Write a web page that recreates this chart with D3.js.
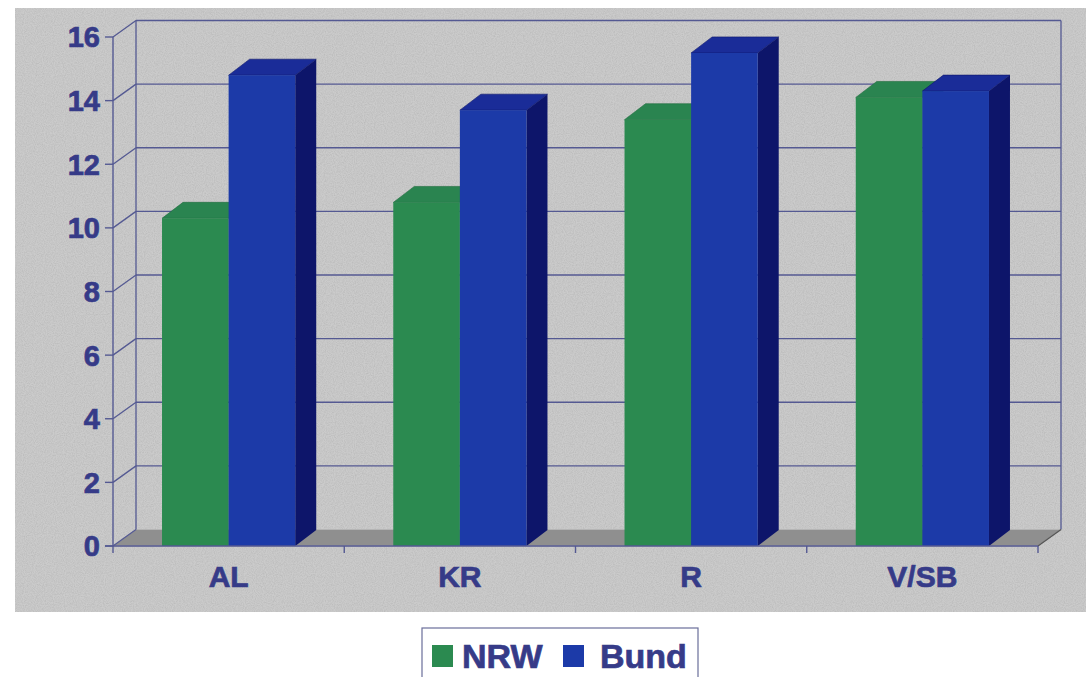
<!DOCTYPE html>
<html>
<head>
<meta charset="utf-8">
<script src="https://cdn.jsdelivr.net/npm/d3@7"></script>
<style>
  body { margin: 0; background: #fff; }
  svg { display: block; }
</style>
</head>
<body>
<script>
  var categories = ['AL', 'KR', 'R', 'V/SB'];
  var seriesNames = ['NRW', 'Bund'];
  var nrwValues = [10.3, 10.8, 13.4, 14.1];
  var bundValues = [14.8, 13.7, 15.5, 14.3];
  var yTicks = [0, 2, 4, 6, 8, 10, 12, 14, 16];

  var width = 1086, height = 677;
  var textColor = '#363b88', gridColor = '#545992';
  var fronts = { NRW: '#2b8a50', Bund: '#1c3aa8' };
  var tops = { NRW: '#2a8450', Bund: '#1a2c98' };
  var sides = { NRW: '#1d6a3a', Bund: '#0d156a' };

  // depth offset of the 3d box
  var DX = 23, DY = -16.5;
  var BDX = 21, BDY = -16;

  var svg = d3.select('body').append('svg').attr('width', width).attr('height', height);

  var defs = svg.append('defs');
  var f = defs.append('filter').attr('id', 'grain').attr('x', 0).attr('y', 0).attr('width', 1).attr('height', 1);
  f.append('feTurbulence').attr('type', 'fractalNoise').attr('baseFrequency', 0.9).attr('numOctaves', 2).attr('seed', 3).attr('result', 'n');
  f.append('feColorMatrix').attr('in', 'n').attr('type', 'matrix')
    .attr('values', '0 0 0 0 0.45  0 0 0 0 0.45  0 0 0 0 0.45  1.2 0 0 0 -0.4').attr('result', 'g');
  f.append('feComposite').attr('in', 'g').attr('in2', 'SourceGraphic').attr('operator', 'in').attr('result', 'gc');
  var fm = f.append('feMerge');
  fm.append('feMergeNode').attr('in', 'SourceGraphic');
  fm.append('feMergeNode').attr('in', 'gc');

  // gray panel
  svg.append('rect').attr('x', 15).attr('y', 8).attr('width', width - 15).attr('height', 604)
    .attr('fill', '#cbcbcb').attr('filter', 'url(#grain)');

  var x = d3.scaleBand().domain(categories).range([113, 1038]).padding(0);
  var xs = d3.scaleBand().domain(seriesNames).range([x.bandwidth() * 0.212, x.bandwidth() * 0.788]).padding(0);
  var y = d3.scaleLinear().domain([0, 16]).range([546, 37]);

  var x0 = x.range()[0], x1 = x.range()[1], y0 = y(0);

  // floor
  svg.append('path')
    .attr('d', 'M' + x0 + ',' + y0 + 'L' + x1 + ',' + y0 + 'L' + (x1 + DX) + ',' + (y0 + DY) + 'L' + (x0 + DX) + ',' + (y0 + DY) + 'Z')
    .attr('fill', '#8f8f8f').attr('stroke', '#b5b5b5').attr('stroke-width', 1);

  // back wall gridlines and left wall diagonals
  var grid = svg.append('g').attr('stroke', gridColor).attr('stroke-width', 1.3).attr('fill', 'none');
  grid.selectAll('line.h').data(yTicks.slice(1)).enter().append('line')
    .attr('x1', x0 + DX).attr('x2', x1 + DX)
    .attr('y1', function(d) { return y(d) + DY; }).attr('y2', function(d) { return y(d) + DY; });
  grid.selectAll('line.d').data(yTicks).enter().append('line')
    .attr('x1', x0).attr('x2', x0 + DX)
    .attr('y1', function(d) { return y(d); }).attr('y2', function(d) { return y(d) + DY; });
  grid.append('line').attr('x1', x0 + DX).attr('x2', x0 + DX).attr('y1', y(16) + DY).attr('y2', y0 + DY);
  grid.append('line').attr('x1', x1 + DX).attr('x2', x1 + DX).attr('y1', y(16) + DY).attr('y2', y0 + DY);
  grid.append('line').attr('x1', x1).attr('x2', x1 + DX).attr('y1', y0).attr('y2', y0 + DY).attr('stroke', '#555');

  // bars
  var rows = [];
  categories.forEach(function(c, i) {
    rows.push({ cat: c, s: 'NRW', v: nrwValues[i] });
    rows.push({ cat: c, s: 'Bund', v: bundValues[i] });
  });
  var bw = xs.bandwidth();
  var bars = svg.selectAll('g.bar').data(rows).enter().append('g').attr('class', 'bar');
  bars.append('path').attr('fill', function(d) { return sides[d.s]; })
    .attr('d', function(d) {
      var bx = x(d.cat) + xs(d.s) + bw, ty = y(d.v);
      return 'M' + bx + ',' + ty + 'L' + (bx + BDX) + ',' + (ty + BDY) + 'L' + (bx + BDX) + ',' + (y0 + BDY) + 'L' + bx + ',' + y0 + 'Z';
    });
  bars.append('path').attr('fill', function(d) { return tops[d.s]; })
    .attr('stroke', function(d) { return sides[d.s]; }).attr('stroke-width', 0.6)
    .attr('d', function(d) {
      var bx = x(d.cat) + xs(d.s), ty = y(d.v);
      return 'M' + bx + ',' + ty + 'L' + (bx + BDX) + ',' + (ty + BDY) + 'L' + (bx + bw + BDX) + ',' + (ty + BDY) + 'L' + (bx + bw) + ',' + ty + 'Z';
    });
  bars.append('rect').attr('fill', function(d) { return fronts[d.s]; })
    .attr('x', function(d) { return x(d.cat) + xs(d.s); })
    .attr('y', function(d) { return y(d.v); })
    .attr('width', bw)
    .attr('height', function(d) { return y0 - y(d.v); });

  // front axes
  var ax = svg.append('g').attr('stroke', gridColor).attr('stroke-width', 1.4);
  ax.append('line').attr('x1', x0).attr('x2', x0).attr('y1', y(16)).attr('y2', y0 + 7);
  ax.append('line').attr('x1', x0 - 8).attr('x2', x1).attr('y1', y0).attr('y2', y0);
  ax.selectAll('line.t').data(yTicks).enter().append('line')
    .attr('x1', x0 - 8).attr('x2', x0).attr('y1', function(d) { return y(d); }).attr('y2', function(d) { return y(d); });
  var edges = categories.map(function(c) { return x(c); }).concat([x1]);
  ax.selectAll('line.c').data(edges.slice(1)).enter().append('line')
    .attr('x1', function(d) { return d; }).attr('x2', function(d) { return d; })
    .attr('y1', y0).attr('y2', y0 + 7);

  var font = '"Liberation Sans", Arial, sans-serif';
  svg.selectAll('text.yl').data(yTicks).enter().append('text')
    .attr('x', 100).attr('y', function(d) { return y(d); }).attr('dy', '0.36em')
    .attr('text-anchor', 'end').attr('font-family', font).attr('font-weight', 'bold')
    .attr('font-size', 29).attr('fill', textColor)
    .attr('stroke', textColor).attr('stroke-width', 0.7).text(function(d) { return d; });
  svg.selectAll('text.xl').data(categories).enter().append('text')
    .attr('x', function(d) { return x(d) + x.bandwidth() / 2; }).attr('y', 587)
    .attr('text-anchor', 'middle').attr('font-family', font).attr('font-weight', 'bold')
    .attr('font-size', 30).attr('fill', textColor)
    .attr('stroke', textColor).attr('stroke-width', 0.7).text(function(d) { return d; });

  // legend
  var lg = svg.append('g');
  lg.append('rect').attr('x', 422).attr('y', 628).attr('width', 276).attr('height', 60)
    .attr('fill', '#fff').attr('stroke', '#6a6e9a').attr('stroke-width', 1.2);
  var legendPos = { NRW: 432, Bund: 563 };
  var legendText = { NRW: 462, Bund: 600 };
  seriesNames.forEach(function(s) {
    lg.append('rect').attr('x', legendPos[s]).attr('y', 645).attr('width', 21).attr('height', 22).attr('fill', fronts[s]);
    lg.append('text').attr('x', legendText[s]).attr('y', 668)
      .attr('font-family', font).attr('font-weight', 'bold').attr('font-size', 34)
      .attr('fill', textColor).attr('stroke', textColor).attr('stroke-width', 0.7).text(s);
  });
</script>
</body>
</html>
